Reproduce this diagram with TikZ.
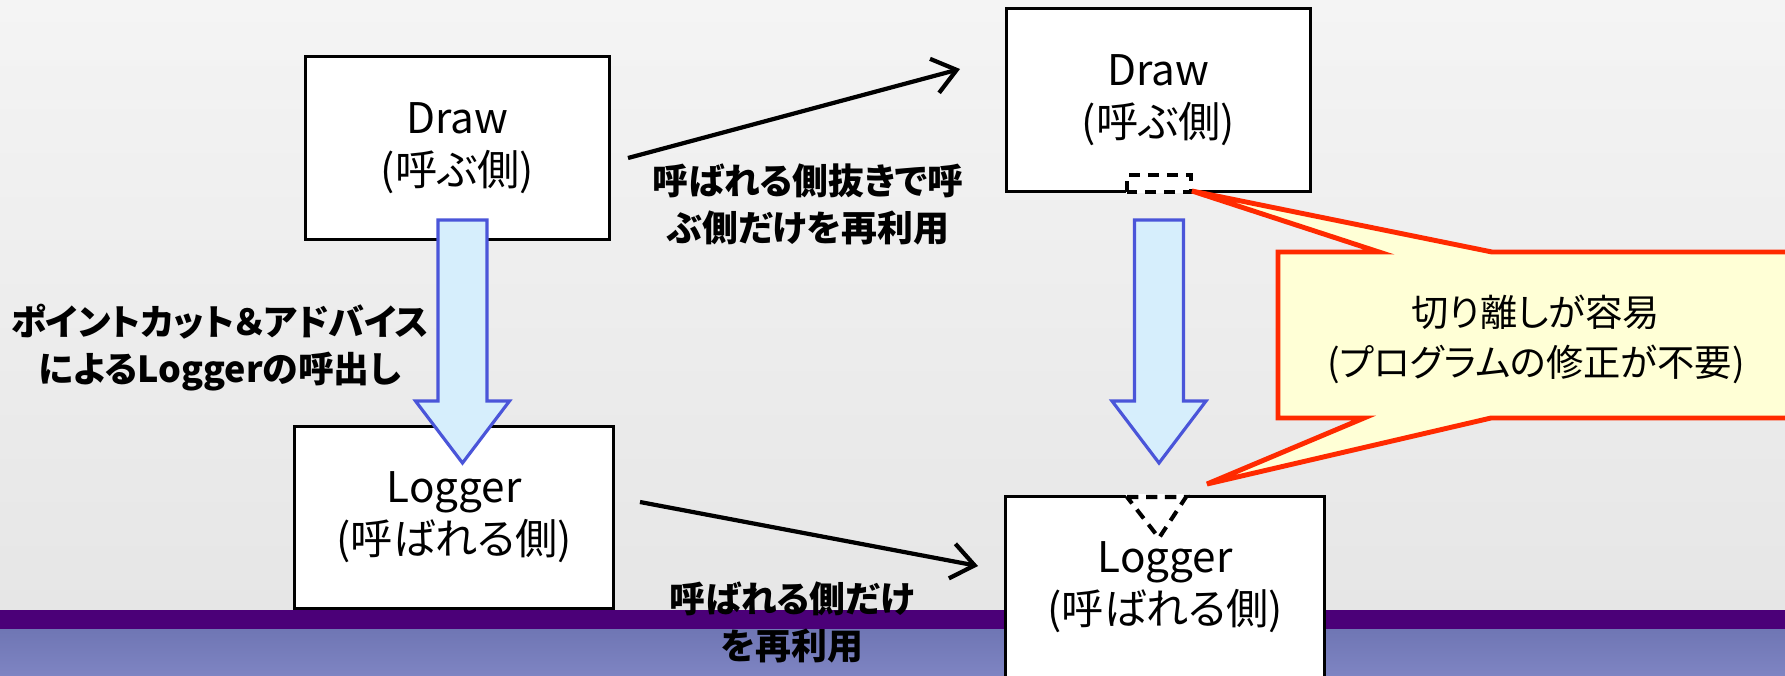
\documentclass[tikz,border=0pt]{standalone}
\usepackage{fontspec}
\setmainfont{Noto Sans CJK JP}[RawFeature=+palt]
\usetikzlibrary{arrows.meta}
\definecolor{bgtop}{HTML}{F4F4F4}
\definecolor{bgbot}{HTML}{E6E6E6}
\definecolor{band}{HTML}{4B0078}
\definecolor{lowtop}{HTML}{6F76B4}
\definecolor{lowbot}{HTML}{7E84C2}
\definecolor{arrowedge}{HTML}{4A55D9}
\definecolor{arrowfill}{HTML}{D6EEFC}
\definecolor{calloutedge}{HTML}{FF2A00}
\definecolor{calloutfill}{HTML}{FFFFD6}
% block arrow pointing down, #1 = centre x
\newcommand{\downblock}[1]{%
  \draw[blockarrow] (#1-24.5,220) -- (#1+24.5,220) -- (#1+24.5,401) -- (#1+47,401)
    -- (#1,463) -- (#1-47,401) -- (#1-24.5,401) -- cycle;}
\begin{document}
\begin{tikzpicture}[x=0.01cm, y=-0.01cm,
		>={Straight Barb[length=6.5pt,width=10pt]},
		box/.style={draw=black, line width=0.85pt, fill=white, align=center, inner sep=0pt,
			font=\fontsize{12}{14.8}\selectfont},
		note/.style={align=center, font=\bfseries\fontsize{10.2}{13.6}\selectfont},
		call/.style={->, line width=1.2pt},
		blockarrow/.style={draw=arrowedge, fill=arrowfill, line width=0.9pt, line join=miter},
		gapline/.style={dash pattern=on 3.2pt off 2.2pt, line width=1.15pt},
		callout/.style={draw=calloutedge, fill=calloutfill, line width=1.4pt, line join=miter}]

		\useasboundingbox (0,0) rectangle (1785,675);
		\clip (0,0) rectangle (1785,675);

		% background
		\shade[top color=bgtop, bottom color=bgbot] (0,0) rectangle (1785,611);
		\fill[band] (0,610) rectangle (1785,629);
		\shade[top color=lowtop, bottom color=lowbot] (0,629) rectangle (1785,675);

		\node[box, minimum width=3.03cm, minimum height=1.82cm] (caller)  at (457.5,148)  {Draw\\(呼ぶ側)};
		\node[box, minimum width=3.03cm, minimum height=1.82cm] (caller2) at (1158.5,100) {Draw\\(呼ぶ側)};
		\node[box, minimum width=3.18cm, minimum height=1.81cm] (callee)  at (454,517.5)  {Logger\\(呼ばれる側)};
		\node[box, minimum width=3.18cm, minimum height=1.81cm] (callee2) at (1165,587.5) {Logger\\(呼ばれる側)};

		% removed join points
		\fill[white] (1126,172) rectangle (1192,193);
		\draw[gapline] (1127,192) -- (1127,175) -- (1191,175) -- (1191,192) -- cycle;
		\fill[white] (1125,494) -- (1189,494) -- (1159,540) -- cycle;
		\draw[gapline] (1127,497) -- (1186,497) -- (1159,538) -- cycle;

		\coordinate (s1) at (628,158);
		\coordinate (e1) at (960,69);
		\coordinate (s2) at (640,502);
		\coordinate (e2) at (978,566);
		\draw[call] (s1) -- (e1);
		\draw[call] (s2) -- (e2);

		\downblock{462.5}
		\downblock{1159}

		\draw[callout] (1278,252) -- (1379,252) -- (1192,191) -- (1492,252) -- (1800,252)
			-- (1800,418) -- (1491,418) -- (1207,484) -- (1364,418) -- (1278,418) -- cycle;
		\node[align=center, font=\fontsize{10.6}{14.2}\selectfont] (easy) at (1536,339)
			{切り離しが容易\\(プログラムの修正が不要)};

		\node[note] (reuse1) at (808,204.5) {呼ばれる側抜きで呼\\ぶ側だけを再利用};
		\node[note] (advice) at (220,347.5) {ポイントカット＆アドバイス\\によるLoggerの呼出し};
		\node[note] (reuse2) at (792,622.5) {呼ばれる側だけ\\を再利用};
\end{tikzpicture}
\end{document}
